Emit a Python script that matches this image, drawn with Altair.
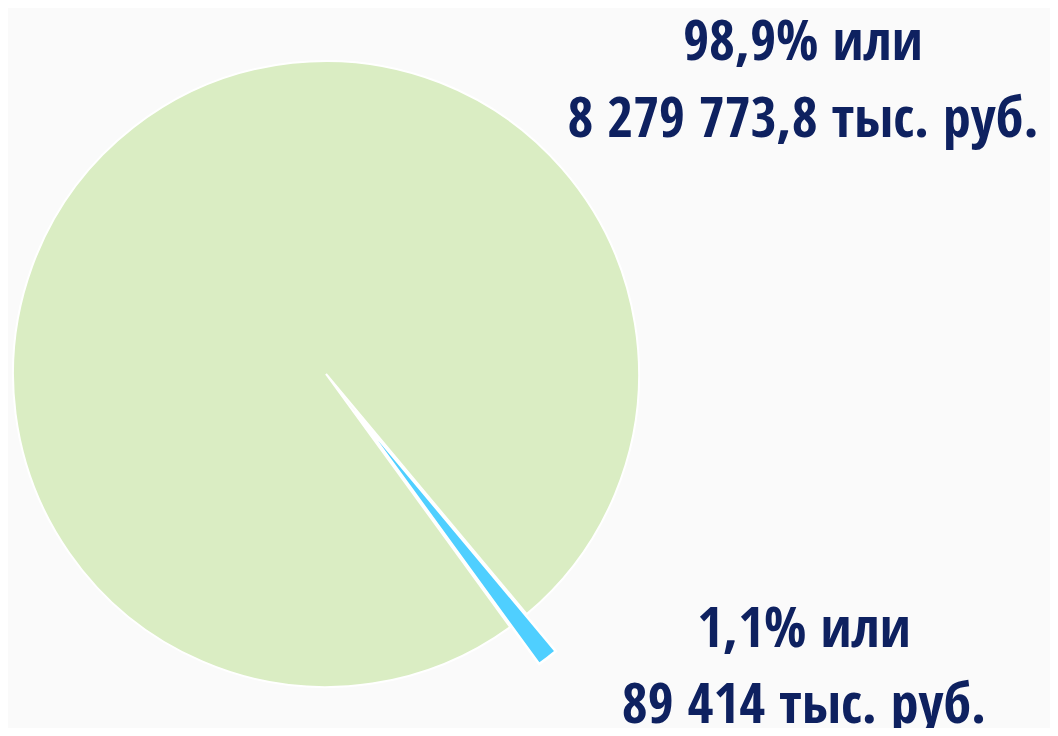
import math
import altair as alt
import pandas as pd

# ---- data ----
keys = ["small", "main"]
values = [89414.0, 8279773.8]
order = [0, 1]
label_top = ["98,9% или", "8 279 773,8 тыс. руб."]
label_bottom = ["1,1% или", "89 414 тыс. руб."]

# ---- layout / style ----
W, H = 1042, 720
CX, CY, R = 318, 366, 313
START_DEG = 140.1
EXPLODE = 47
GREEN = "#daedc3"
BLUE = "#4fcfff"
NAVY = "#0e2160"
FONT = "Noto Sans ExtraCondensed, Noto Sans Condensed, Open Sans Condensed, DejaVu Sans Condensed, sans-serif"

df = pd.DataFrame({"key": keys, "value": values, "ord": order})
a0 = math.radians(START_DEG)

share_small = values[0] / sum(values)
mid = a0 + share_small * math.pi
bx = CX + EXPLODE * math.sin(mid)
by = CY - EXPLODE * math.cos(mid)

base = alt.Chart(df)
theta = alt.Theta("value:Q", stack=True, scale=alt.Scale(range=[a0, a0 + 2 * math.pi]))
color = alt.Color("key:N", scale=alt.Scale(domain=["main", "small"], range=[GREEN, BLUE]), legend=None)

main_arc = base.mark_arc(radius=R, stroke="white", strokeWidth=2).encode(
    theta=theta,
    order=alt.Order("ord:Q"),
    color=color,
    opacity=alt.condition(alt.datum.key == "main", alt.value(1), alt.value(0)),
    x=alt.value(CX),
    y=alt.value(CY),
)

small_arc = base.mark_arc(radius=R, stroke="white", strokeWidth=2.5).encode(
    theta=theta,
    order=alt.Order("ord:Q"),
    color=color,
    opacity=alt.condition(alt.datum.key == "small", alt.value(1), alt.value(0)),
    x=alt.value(bx),
    y=alt.value(by),
)

txt_df = pd.DataFrame({"t": ["\n".join(label_top), "\n".join(label_bottom)], "pos": ["top", "bottom"]})

top_text = alt.Chart(txt_df).transform_filter(alt.datum.pos == "top").mark_text(
    font=FONT, fontSize=56, fontWeight="bold", color=NAVY, align="center",
    baseline="alphabetic", lineBreak="\n", lineHeight=77,
).encode(text="t:N", x=alt.value(795), y=alt.value(52))

bottom_text = alt.Chart(txt_df).transform_filter(alt.datum.pos == "bottom").mark_text(
    font=FONT, fontSize=56, fontWeight="bold", color=NAVY, align="center",
    baseline="alphabetic", lineBreak="\n", lineHeight=76,
).encode(text="t:N", x=alt.value(796), y=alt.value(639))

chart = alt.layer(main_arc, small_arc, top_text, bottom_text).properties(
    width=W, height=H, background="#fafafa", padding=0,
    autosize=alt.AutoSizeParams(type="none"),
).configure_view(stroke=None)

chart.save("out.html", embed_options={"renderer": "svg", "actions": False})
